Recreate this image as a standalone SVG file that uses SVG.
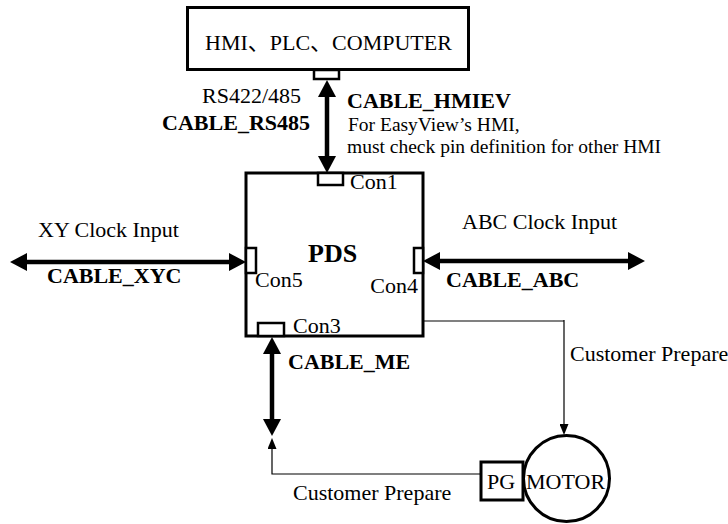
<svg xmlns="http://www.w3.org/2000/svg" width="728" height="524" viewBox="0 0 728 524">
  <style>
    text { font-family: "Liberation Serif", "Noto Sans CJK SC", serif; font-size: 22px; fill: #000; }
    .b { font-weight: bold; }
    .note { font-size: 19.5px; }
    .box { fill: #fff; stroke: #000; stroke-width: 3; }
    .port { fill: #fff; stroke: #000; stroke-width: 2.5; }
    .cable { fill: none; stroke: #000; stroke-width: 4.5; }
    .wire { fill: none; stroke: #000; stroke-width: 1.2; }
    .wire-gray { fill: none; stroke: #808080; stroke-width: 1.8; }
  </style>
  <defs>
    <marker id="headBig" markerUnits="userSpaceOnUse" viewBox="0 0 17 18" refX="0" refY="9" markerWidth="17" markerHeight="18" orient="auto-start-reverse">
      <path d="M0,0 L17,9 L0,18 Z" fill="#000"/>
    </marker>
    <marker id="headSmall" markerUnits="userSpaceOnUse" viewBox="0 0 11 9" refX="0" refY="4.5" markerWidth="11" markerHeight="9" orient="auto">
      <path d="M0,0 L11,4.5 L0,9 Z" fill="#000"/>
    </marker>
  </defs>

  <!-- connectors -->
  <g id="connectors">
    <!-- Con1 to host -->
    <line class="cable" x1="327" y1="97" x2="327" y2="156" marker-start="url(#headBig)" marker-end="url(#headBig)"/>
    <!-- Con5 XY clock -->
    <line class="cable" x1="27" y1="262" x2="229" y2="262" marker-start="url(#headBig)" marker-end="url(#headBig)"/>
    <!-- Con4 ABC clock -->
    <line class="cable" x1="440" y1="261" x2="628" y2="261" marker-start="url(#headBig)" marker-end="url(#headBig)"/>
    <!-- Con3 motor encoder -->
    <line class="cable" x1="272" y1="354" x2="272" y2="419" marker-start="url(#headBig)" marker-end="url(#headBig)"/>
    <!-- power wiring to motor -->
    <polyline class="wire-gray" points="423,321 564,321"/>
    <polyline class="wire" points="564,320 564,424" marker-end="url(#headSmall)"/>
    <!-- encoder feedback from PG -->
    <polyline class="wire" points="481,474 272,474 272,449" marker-end="url(#headSmall)"/>
  </g>

  <!-- host -->
  <g id="host">
    <rect class="box" x="187.5" y="7.5" width="281" height="62"/>
    <text x="205" y="50">HMI、PLC、COMPUTER</text>
    <rect class="port" x="314" y="70" width="25" height="9"/>
  </g>

  <!-- PDS unit -->
  <g id="pds">
    <rect class="box" x="246" y="173" width="177" height="163"/>
    <text class="b" x="308" y="262" style="font-size:26px">PDS</text>
    <rect class="port" x="318" y="173" width="25" height="12"/>
    <text x="350" y="189">Con1</text>
    <rect class="port" x="246" y="248" width="10" height="25"/>
    <text x="255" y="287">Con5</text>
    <rect class="port" x="414" y="248" width="9" height="25"/>
    <text x="418" y="293" text-anchor="end">Con4</text>
    <rect class="port" x="258" y="323" width="26" height="13"/>
    <text x="293" y="333">Con3</text>
  </g>

  <!-- motor -->
  <g id="motor">
    <circle class="box" cx="566.5" cy="478.5" r="43"/>
    <text x="526" y="489">MOTOR</text>
  </g>

  <!-- pulse generator -->
  <g id="pg">
    <rect class="box" x="481" y="462" width="42" height="38"/>
    <text x="487" y="489">PG</text>
  </g>

  <!-- labels -->
  <g id="labels">
    <text x="202" y="103">RS422/485</text>
    <text class="b" x="310" y="130" text-anchor="end">CABLE_RS485</text>
    <text class="b" x="347" y="108">CABLE_HMIEV</text>
    <text class="note" x="348" y="131">For EasyView’s HMI,</text>
    <text class="note" x="347" y="153">must check pin definition for other HMI</text>
    <text x="38" y="237">XY Clock Input</text>
    <text class="b" x="47" y="283">CABLE_XYC</text>
    <text x="462" y="229">ABC Clock Input</text>
    <text class="b" x="446" y="287">CABLE_ABC</text>
    <text class="b" x="288" y="369">CABLE_ME</text>
    <text x="570" y="361">Customer Prepare</text>
    <text x="293" y="500">Customer Prepare</text>
  </g>
</svg>
